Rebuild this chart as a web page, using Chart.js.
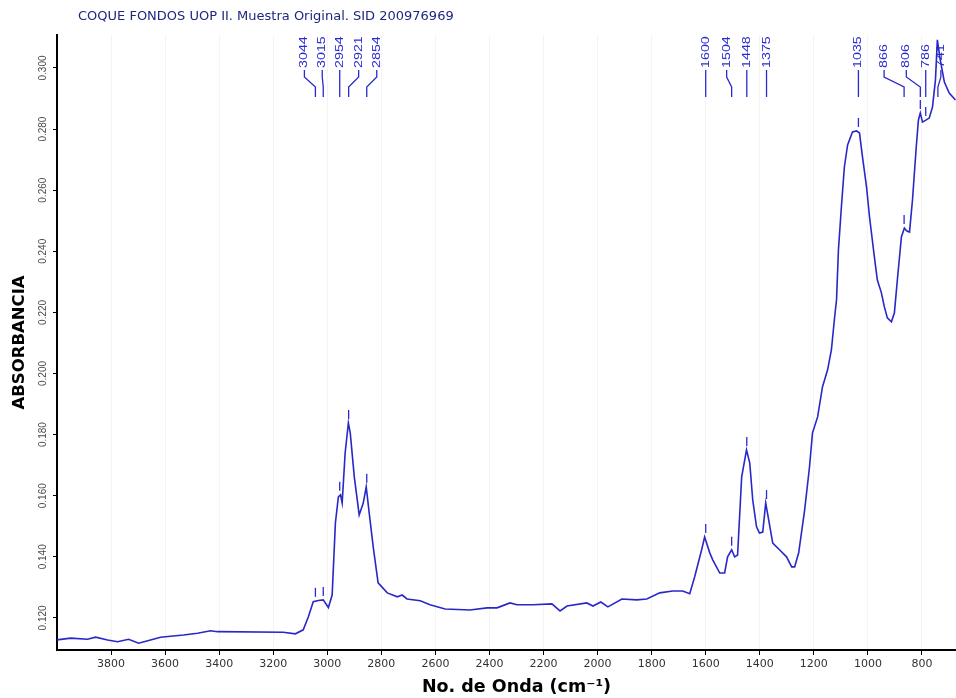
<!DOCTYPE html>
<html>
<head>
<meta charset="utf-8">
<script src="https://cdn.jsdelivr.net/npm/chart.js@4.4.1/dist/chart.umd.min.js"></script>
<style>
  html, body { margin: 0; padding: 0; background: #ffffff; overflow: hidden; }
  #wrap { width: 956px; height: 698px; position: relative; overflow: hidden; }
  #spectrum { display: block; }
</style>
</head>
<body>
<div id="wrap"><canvas id="spectrum" width="976" height="698"></canvas></div>
<script>
// IR spectrum: wavenumber (cm-1) and absorbance
const wavenumbers = [4000, 3949, 3887, 3857, 3813, 3776, 3735, 3698, 3654, 3617,
  3532, 3480, 3432, 3406, 3163, 3118, 3089, 3070, 3052, 3033,
  3015, 2996, 2982, 2970, 2959, 2951, 2945, 2934, 2922, 2915,
  2900, 2882, 2867, 2856, 2845, 2830, 2812, 2778, 2741, 2723,
  2705, 2656, 2620, 2564, 2472, 2409, 2372, 2324, 2298, 2239,
  2169, 2139, 2113, 2040, 2017, 1988, 1962, 1910, 1855, 1818,
  1770, 1722, 1685, 1659, 1641, 1615, 1604, 1585, 1574, 1548,
  1530, 1519, 1504, 1493, 1482, 1467, 1449, 1437, 1426, 1412,
  1401, 1389, 1378, 1367, 1352, 1327, 1301, 1282, 1271, 1256,
  1234, 1216, 1205, 1186, 1168, 1149, 1135, 1123, 1116, 1109,
  1098, 1087, 1075, 1057, 1042, 1031, 1020, 1005, 994, 976,
  965, 950, 939, 928, 913, 902, 891, 876, 865, 857,
  846, 835, 821, 813, 806, 798, 784, 773, 761, 750,
  743, 732, 717, 699, 676];

const absorbance = [0.1128, 0.1134, 0.1130, 0.1137, 0.1128, 0.1122, 0.1130, 0.1117, 0.1128, 0.1137,
  0.1144, 0.1150, 0.1158, 0.1155, 0.1153, 0.1148, 0.1161, 0.1204, 0.1253, 0.1257,
  0.1259, 0.1234, 0.1275, 0.1511, 0.1596, 0.1603, 0.1576, 0.1740, 0.1838, 0.1805,
  0.1661, 0.1537, 0.1576, 0.1629, 0.1544, 0.1432, 0.1315, 0.1282, 0.1269, 0.1275,
  0.1262, 0.1256, 0.1243, 0.1229, 0.1226, 0.1233, 0.1233, 0.1249, 0.1243, 0.1243,
  0.1246, 0.1223, 0.1239, 0.1249, 0.1239, 0.1252, 0.1236, 0.1262, 0.1259, 0.1262,
  0.1282, 0.1288, 0.1288, 0.1279, 0.1334, 0.1423, 0.1465, 0.1413, 0.1390, 0.1347,
  0.1347, 0.1400, 0.1423, 0.1400, 0.1406, 0.1661, 0.1750, 0.1707, 0.1586, 0.1498,
  0.1478, 0.1481, 0.1576, 0.1521, 0.1445, 0.1423, 0.1400, 0.1367, 0.1367, 0.1413,
  0.1553, 0.1694, 0.1805, 0.1858, 0.1956, 0.2012, 0.2077, 0.2185, 0.2241, 0.2404,
  0.2545, 0.2676, 0.2748, 0.2791, 0.2794, 0.2787, 0.2709, 0.2611, 0.2513, 0.2382,
  0.2306, 0.2264, 0.2218, 0.2182, 0.2169, 0.2198, 0.2306, 0.2447, 0.2476, 0.2467,
  0.2463, 0.2568, 0.2742, 0.2830, 0.2853, 0.2823, 0.2830, 0.2836, 0.2872, 0.2961,
  0.3092, 0.3026, 0.2954, 0.2918, 0.2895];

// Picked peaks and the absorbance at each apex
const peakWavenumbers = [3044, 3015, 2954, 2921, 2854, 1600, 1504, 1448, 1375, 1035, 866, 806, 786, 741];
const peakAbsorbance  = [0.1256, 0.1259, 0.1603, 0.1838, 0.1629, 0.1465, 0.1423, 0.1750, 0.1576, 0.2794, 0.2476, 0.2853, 0.2830, 0.3092];

// Axis ticks
const xTickValues = [3800, 3600, 3400, 3200, 3000, 2800, 2600, 2400, 2200, 2000, 1800, 1600, 1400, 1200, 1000, 800];
const yTickValues = [0.120, 0.140, 0.160, 0.180, 0.200, 0.220, 0.240, 0.260, 0.280, 0.300];

const chartTitle = 'COQUE FONDOS UOP II. Muestra Original. SID 200976969';
const xTitle = 'No. de Onda (cm\u207B\u00B9)';
const yTitle = 'ABSORBANCIA';

// Horizontal nudge of each peak label away from its peak (pixels), so labels don't collide
const peakLabelShift = [-11, -1, 0, 10, 10, 0, -5, 0, 0, 0, -20, -14, 0, 3];

const LINE_BLUE = '#2828c8';
const LABEL_BLUE = '#2a2ad2';

const points = wavenumbers.map((w, i) => ({ x: w, y: absorbance[i] }));

const decorations = {
  id: 'spectrumDecorations',
  afterDraw(chart) {
    const { ctx, chartArea, scales } = chart;
    const xs = scales.x, ys = scales.y;

    // Header
    ctx.save();
    ctx.fillStyle = '#1d2782';
    ctx.font = '13px "DejaVu Sans"';
    ctx.textAlign = 'left';
    ctx.textBaseline = 'middle';
    ctx.fillText(chartTitle, 78, 17);
    ctx.restore();

    // Rotated absorbance tick labels
    ctx.save();
    ctx.fillStyle = '#4a4a4a';
    ctx.font = '10px "Liberation Sans"';
    ctx.textAlign = 'center';
    ctx.textBaseline = 'middle';
    ys.ticks.forEach(t => {
      const py = ys.getPixelForValue(t.value);
      ctx.save();
      ctx.translate(chartArea.left - 14, py);
      ctx.rotate(-Math.PI / 2);
      ctx.fillText(t.value.toFixed(3), 0, 0);
      ctx.restore();
    });
    ctx.restore();

    // Peak labels, leader lines and apex markers
    const base = chartArea.top + 33;
    ctx.save();
    ctx.strokeStyle = LABEL_BLUE;
    ctx.fillStyle = LABEL_BLUE;
    ctx.lineWidth = 1.3;
    ctx.font = '11px "Liberation Sans"';
    ctx.textAlign = 'left';
    ctx.textBaseline = 'middle';
    peakWavenumbers.forEach((wn, i) => {
      const px = xs.getPixelForValue(wn);
      const lx = px + peakLabelShift[i];
      ctx.save();
      ctx.translate(lx, base);
      ctx.rotate(-Math.PI / 2);
      ctx.scale(1.3, 1);
      ctx.fillText(String(wn), 0, 0);
      ctx.restore();

      ctx.beginPath();
      ctx.moveTo(lx, base + 2);
      ctx.lineTo(lx, base + 9);
      ctx.lineTo(px, base + 19);
      ctx.lineTo(px, base + 29);
      ctx.stroke();

      const py = ys.getPixelForValue(peakAbsorbance[i]);
      if (py - 13 > base + 29) {
        ctx.beginPath();
        ctx.moveTo(px, py - 4);
        ctx.lineTo(px, py - 13);
        ctx.stroke();
      }
    });
    ctx.restore();
  }
};

new Chart(document.getElementById('spectrum'), {
  type: 'line',
  data: {
    datasets: [{
      data: points,
      borderColor: LINE_BLUE,
      borderWidth: 1.6,
      pointRadius: 0,
      tension: 0,
      fill: false
    }]
  },
  options: {
    responsive: false,
    animation: false,
    events: [],
    layout: { padding: { top: 35, right: 0, bottom: 0, left: 0 } },
    plugins: {
      legend: { display: false },
      title: { display: false },
      tooltip: { enabled: false }
    },
    scales: {
      x: {
        type: 'linear',
        reverse: true,
        min: 600,
        max: 4000,
        afterBuildTicks: s => { s.ticks = xTickValues.map(v => ({ value: v })); },
        afterFit: s => { s.height = 48; },
        ticks: {
          autoSkip: false,
          maxRotation: 0,
          padding: 3,
          color: '#333333',
          font: { family: 'DejaVu Sans', size: 11 },
          callback: v => String(v)
        },
        grid: {
          color: 'rgba(0,0,0,0.045)',
          drawOnChartArea: true,
          drawTicks: true,
          tickLength: 5,
          tickColor: '#000000',
          tickWidth: 1
        },
        border: { display: true, color: '#000000', width: 2 },
        title: {
          display: true,
          text: xTitle,
          color: '#000000',
          font: { family: 'DejaVu Sans', size: 17.5, weight: 'bold', lineHeight: 1.2 },
          padding: { top: 0, bottom: 0 }
        }
      },
      y: {
        type: 'linear',
        min: 0.1095,
        max: 0.3108,
        afterBuildTicks: s => { s.ticks = yTickValues.map(v => ({ value: v })); },
        afterFit: s => { s.width = 57; },
        ticks: { display: false },
        grid: {
          display: true,
          drawOnChartArea: false,
          drawTicks: true,
          tickLength: 4,
          tickColor: '#000000',
          tickWidth: 1
        },
        border: { display: true, color: '#000000', width: 2 },
        title: {
          display: true,
          text: yTitle,
          color: '#000000',
          font: { family: 'DejaVu Sans', size: 16.5, weight: 'bold', lineHeight: 1.2 },
          padding: { top: 10, bottom: 0 }
        }
      }
    }
  },
  plugins: [decorations]
});
</script>
</body>
</html>
